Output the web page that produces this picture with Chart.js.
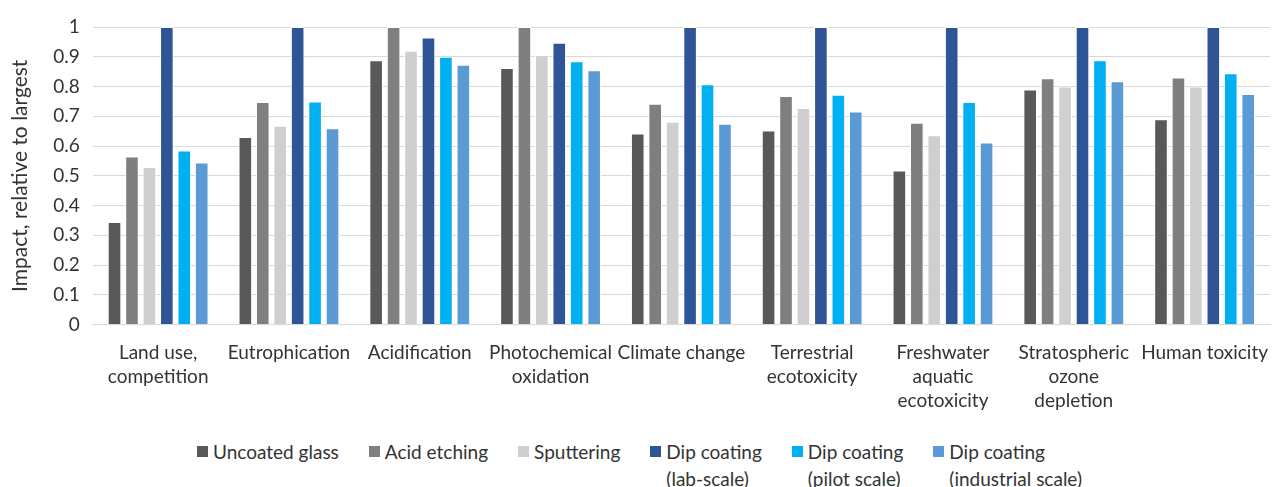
<!DOCTYPE html>
<html>
<head>
<meta charset="utf-8">
<script src="https://cdn.jsdelivr.net/npm/chart.js@4.4.1/dist/chart.umd.min.js"></script>
<style>
  body { margin: 0; background: #fff; font-family: Lato, "Open Sans", sans-serif; }
  #wrap { position: relative; width: 1272px; height: 487px; }
  #legend { position: absolute; left: 197px; top: 438px; display: flex; gap: 30px; font-size: 19px; color: #333; line-height: 27px; }
  .item { display: flex; align-items: flex-start; }
  .sw { width: 11px; height: 11px; margin: 8px 5px 0 0; flex: none; }
</style>
</head>
<body>
<div id="wrap">
  <canvas id="chart" width="1272" height="432"></canvas>
  <div id="legend"></div>
</div>
<script>
const categories = [
  ['Land use,', 'competition'], 'Eutrophication', 'Acidification',
  ['Photochemical', 'oxidation'], 'Climate change', ['Terrestrial', 'ecotoxicity'],
  ['Freshwater', 'aquatic', 'ecotoxicity'], ['Stratospheric', 'ozone', 'depletion'], 'Human toxicity'
];
const seriesNames = ['Uncoated glass', 'Acid etching', 'Sputtering',
  'Dip coating\n(lab-scale)', 'Dip coating\n(pilot scale)', 'Dip coating\n(industrial scale)'];
const seriesColors = ['#595959', '#7f7f7f', '#d0cece', '#2f5597', '#00b0f0', '#5b9bd5'];

const uncoated   = [0.345, 0.630, 0.888, 0.862, 0.642, 0.652, 0.518, 0.790, 0.690];
const acid       = [0.565, 0.748, 1.000, 1.000, 0.742, 0.768, 0.678, 0.828, 0.830];
const sputtering = [0.530, 0.668, 0.920, 0.905, 0.682, 0.728, 0.636, 0.800, 0.800];
const dipLab     = [1.000, 1.000, 0.965, 0.947, 1.000, 1.000, 1.000, 1.000, 1.000];
const dipPilot   = [0.585, 0.750, 0.900, 0.885, 0.808, 0.772, 0.748, 0.888, 0.845];
const dipInd     = [0.545, 0.660, 0.873, 0.855, 0.675, 0.716, 0.612, 0.818, 0.775];
const allSeries = [uncoated, acid, sputtering, dipLab, dipPilot, dipInd];

const datasets = allSeries.map((d, i) => ({
  label: seriesNames[i],
  data: d,
  backgroundColor: seriesColors[i],
  borderColor: '#ffffff',
  borderWidth: 1,
  categoryPercentage: 0.8,
  barPercentage: 0.78
}));

new Chart(document.getElementById('chart'), {
  type: 'bar',
  data: { labels: categories, datasets: datasets },
  options: {
    responsive: false,
    animation: false,
    layout: { padding: { top: 27, right: 2, left: 8, bottom: 19 } },
    plugins: { legend: { display: false }, tooltip: { enabled: false } },
    scales: {
      x: {
        // invisible tick marks give the label gap without adding side padding
        grid: { display: true, drawOnChartArea: false, drawTicks: true, tickLength: 16, color: 'rgba(0,0,0,0)' },
        border: { color: '#d9d9d9', width: 1 },
        ticks: { color: '#333', font: { family: 'Lato', size: 19, lineHeight: 1.27 }, maxRotation: 0, autoSkip: false, padding: 0 }
      },
      y: {
        min: 0, max: 1,
        grid: { color: '#d9d9d9', drawTicks: false },
        border: { display: false },
        ticks: { stepSize: 0.1, color: '#333', padding: 13, font: { family: 'Lato', size: 19 },
          callback: v => Number(v.toFixed(1)).toString() },
        title: { display: true, text: 'Impact, relative to largest', color: '#333', font: { family: 'Lato', size: 21, lineHeight: 1.2 }, padding: { top: 0, bottom: 7 } }
      }
    }
  }
});

const legend = document.getElementById('legend');
seriesNames.forEach((name, i) => {
  const item = document.createElement('div');
  item.className = 'item';
  const sw = document.createElement('span');
  sw.className = 'sw';
  sw.style.background = seriesColors[i];
  const txt = document.createElement('span');
  txt.innerHTML = name.split('\n').join('<br>');
  item.appendChild(sw);
  item.appendChild(txt);
  legend.appendChild(item);
});
</script>
</body>
</html>
